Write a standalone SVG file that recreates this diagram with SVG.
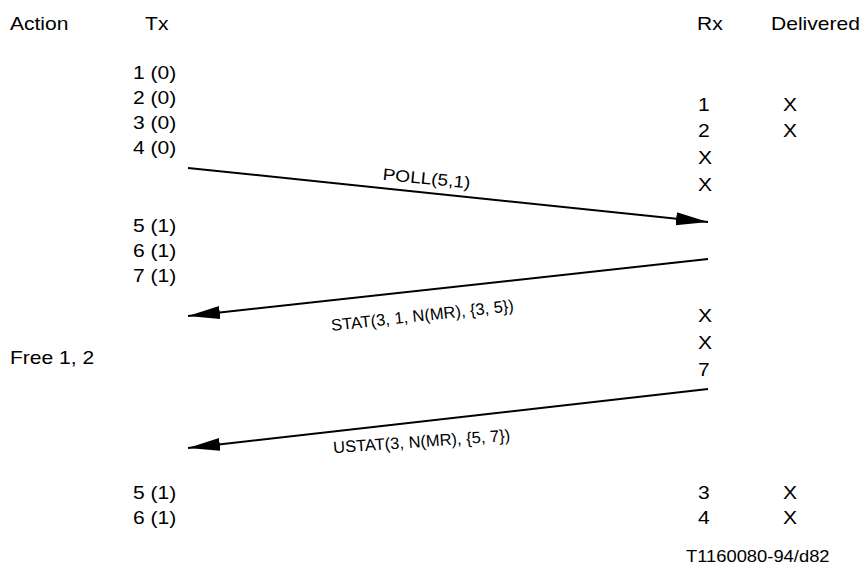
<svg xmlns="http://www.w3.org/2000/svg" width="862" height="567" viewBox="0 0 862 567">
<style>
text{font-family:"Liberation Sans",Arial,sans-serif;font-size:18px;fill:#000}
.c{text-anchor:middle;font-size:16.5px}
.f{font-size:15.7px}
.ln{stroke:#000;stroke-width:2;fill:none}
</style>
<defs>
<marker id="ah" markerWidth="34" markerHeight="14" refX="32" refY="6.5" orient="auto" markerUnits="userSpaceOnUse">
<path d="M0,0 L32,6.5 L0,13 Z" fill="#000"/>
</marker>
</defs>
<rect width="862" height="567" fill="#fff"/>
<g transform="scale(1.17 1)">
<g id="headers">
<text x="8.5" y="30">Action</text>
<text x="124" y="30">Tx</text>
<text x="595.7" y="30">Rx</text>
<text x="659" y="30">Delivered</text>
</g>
<g id="tx">
<text x="113.7" y="79">1 (0)</text>
<text x="113.7" y="104">2 (0)</text>
<text x="113.7" y="129">3 (0)</text>
<text x="113.7" y="154">4 (0)</text>
<text x="113.7" y="232">5 (1)</text>
<text x="113.7" y="257">6 (1)</text>
<text x="113.7" y="282">7 (1)</text>
<text x="113.7" y="499">5 (1)</text>
<text x="113.7" y="524">6 (1)</text>
</g>
<g id="action">
<text x="8.5" y="364">Free 1, 2</text>
</g>
<g id="rx">
<text x="596.6" y="111">1</text>
<text x="596.6" y="137">2</text>
<text x="596.6" y="164">X</text>
<text x="596.6" y="191">X</text>
<text x="596.6" y="322">X</text>
<text x="596.6" y="349">X</text>
<text x="596.6" y="376">7</text>
<text x="596.6" y="499">3</text>
<text x="596.6" y="524">4</text>
</g>
<g id="delivered">
<text x="669.2" y="111">X</text>
<text x="669.2" y="137">X</text>
<text x="669.2" y="499">X</text>
<text x="669.2" y="524">X</text>
</g>
<text class="f" x="586.3" y="562">T1160080-94/d82</text>
</g>
<g id="connectors">
<line class="ln" x1="188" y1="168" x2="708" y2="222" marker-end="url(#ah)"/>
<line class="ln" x1="708" y1="259" x2="188" y2="316" marker-end="url(#ah)"/>
<line class="ln" x1="708" y1="389" x2="188" y2="448" marker-end="url(#ah)"/>
</g>
<g id="labels">
<text class="c" transform="translate(426,184) rotate(5.6)" textLength="88" lengthAdjust="spacingAndGlyphs">POLL(5,1)</text>
<text class="c" transform="translate(423,321) rotate(-6.3)">STAT(3, 1, N(MR), {3, 5})</text>
<text class="c" transform="translate(422,447) rotate(-4)">USTAT(3, N(MR), {5, 7})</text>
</g>
</svg>
